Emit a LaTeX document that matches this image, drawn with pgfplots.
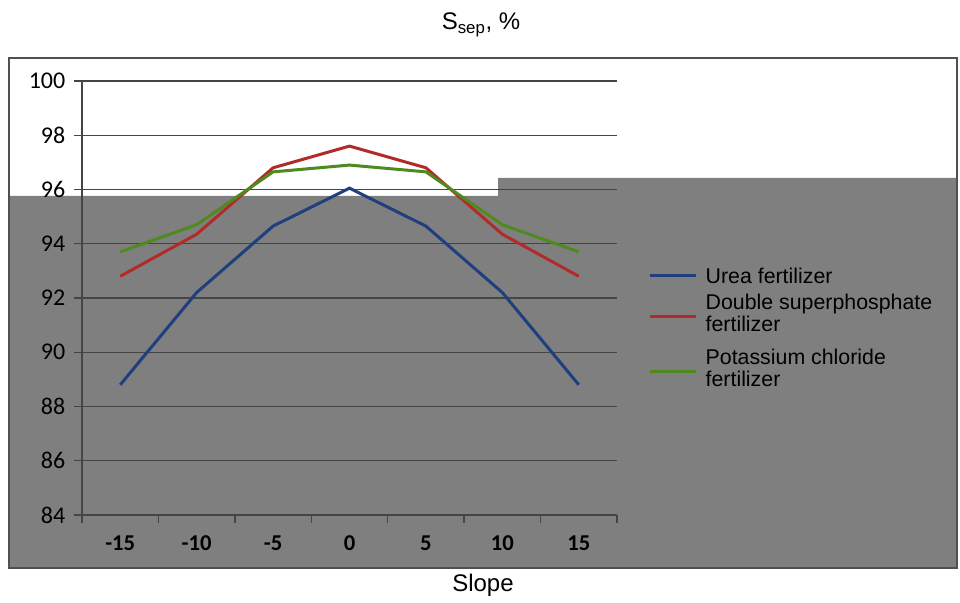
\documentclass[border=0pt]{standalone}
\usepackage{pgfplots}
\pgfplotsset{compat=1.18}
\usepackage{fontspec}
\setmainfont{Liberation Sans}
\newfontfamily\carlito{Carlito}

\definecolor{ublue}{HTML}{1F3F7F}
\definecolor{ured}{HTML}{B22B2B}
\definecolor{ugreen}{HTML}{4F8A1E}
\definecolor{bggray}{HTML}{7F7F7F}
\definecolor{gridc}{HTML}{454545}
\definecolor{framec}{HTML}{505050}

\begin{document}
\begin{tikzpicture}[x=0.75pt,y=0.75pt]
\useasboundingbox (0,0) rectangle (960,603);
\fill[white] (0,0) rectangle (960,603);
% chart area, partly grey as in the scan
\fill[bggray] (10,36) -- (956,36) -- (956,425) -- (498,425) -- (498,407) -- (10,407) -- cycle;
\draw[framec,line width=1.5pt] (9,35) rectangle (957,545);

\begin{axis}[
  at={(61.5pt,66pt)},
  anchor=south west,
  scale only axis,
  width=401.25pt,
  height=325.5pt,
  xmin=-17.5, xmax=17.5,
  ymin=84, ymax=100,
  axis x line=bottom,
  axis y line=left,
  axis line style={-,draw=gridc,line width=1.2pt},
  xtick={-17.5,-12.5,...,17.5},
  xticklabels={},
  extra x ticks={-15,-10,-5,0,5,10,15},
  extra x tick labels={-15,-10,-5,0,5,10,15},
  extra x tick style={major tick length=0pt},
  ytick={84,86,...,100},
  tick align=outside,
  major tick length=6pt,
  tick style={draw=gridc,line width=1pt},
  ymajorgrids,
  grid style={draw=gridc,line width=1pt},
  /pgf/number format/assume math mode=true,
  yticklabel style={font=\carlito\fontsize{18}{18}\selectfont,xshift=-3pt},
  xticklabel style={font=\carlito\bfseries\fontsize{17}{17}\selectfont,yshift=-12pt},
  legend style={
    at={(1.05,0.582)}, anchor=north west,
    draw=none, fill=none,
    font=\fontsize{16}{16.5}\selectfont,
    nodes={text depth=,text height=},
    row sep=4pt,
    /tikz/every odd column/.append style={column sep=4pt},
  },
  legend cell align=left,
  legend image code/.code={\draw[#1,line width=2.25pt] (0pt,0pt) -- (35pt,0pt);},
]
\addplot[color=ublue,line width=2.25pt,mark=none] coordinates {
  (-15,88.8) (-10,92.2) (-5,94.65) (0,96.05) (5,94.65) (10,92.2) (15,88.8)
};
\addlegendentry{Urea fertilizer}
\addplot[color=ured,line width=2.25pt,mark=none] coordinates {
  (-15,92.8) (-10,94.35) (-5,96.8) (0,97.6) (5,96.8) (10,94.35) (15,92.8)
};
\addlegendentry{\begin{tabular}{@{}l@{}}Double superphosphate\\fertilizer\end{tabular}}
\addplot[color=ugreen,line width=2.25pt,mark=none] coordinates {
  (-15,93.7) (-10,94.7) (-5,96.65) (0,96.9) (5,96.65) (10,94.7) (15,93.7)
};
\addlegendentry{\begin{tabular}{@{}l@{}}Potassium chloride\\fertilizer\end{tabular}}
\end{axis}

\node[anchor=base,font=\fontsize{18}{18}\selectfont] at (481,573) {S\textsubscript{sep}, \%};
\node[anchor=base,font=\fontsize{18}{18}\selectfont] at (483,11) {Slope};
\end{tikzpicture}
\end{document}
